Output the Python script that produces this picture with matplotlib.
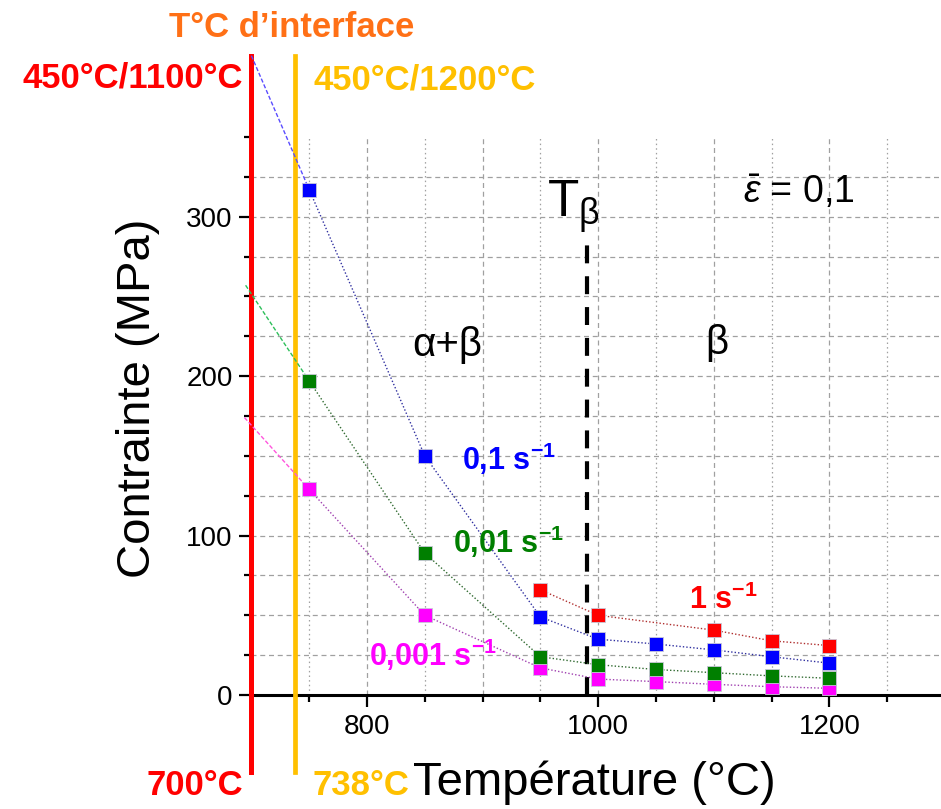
import matplotlib
matplotlib.use("Agg")
import matplotlib.pyplot as plt
from matplotlib.ticker import MultipleLocator
import numpy as np

plt.rcParams['font.family'] = ['Liberation Sans', 'DejaVu Sans']
plt.rcParams['mathtext.fontset'] = 'custom'
plt.rcParams['mathtext.rm'] = 'Liberation Sans'
plt.rcParams['mathtext.it'] = 'Liberation Sans:italic'
plt.rcParams['mathtext.bf'] = 'Liberation Sans:bold'
plt.rcParams['xtick.labelsize'] = 20
plt.rcParams['ytick.labelsize'] = 20

# data (temperature in degC, stress in MPa)
temps = [750, 850, 950, 1000, 1050, 1100, 1150, 1200]
stress_01 = [317, 150, 49, 35, 32, 28.3, 24, 20]        # 0,1 s-1
stress_001 = [197, 89, 24, 19, 16, 14, 12, 10.5]        # 0,01 s-1
stress_0001 = [129, 50, 17, 10, 8.4, 6.7, 5.2, 4.2]     # 0,001 s-1
temps_1 = [950, 1000, 1100, 1150, 1200]
stress_1 = [66, 50, 40.7, 34, 31]                      # 1 s-1

# start of the fitted curves, left of the first point
ext_start_01 = (700, 401)
ext_start_001 = (695, 257)
ext_start_0001 = (694, 174)

T_interface_1 = 700   # 450/1100
T_interface_2 = 738   # 450/1200
T_beta = 990

W, H = 941, 809
fig = plt.figure(figsize=(W / 100, H / 100), dpi=100)
ax = fig.add_axes([251.4 / W, 114 / H, 693.5 / W, 558 / H])
ax.set_xlim(700, 1300)
ax.set_ylim(0, 350)

# grid
for t in np.arange(750, 1300, 50):
    if t % 100 == 0:
        ax.axvline(t, color='#a0a0a0', lw=0.9, ls=(0, (4, 3)), zorder=0)
    else:
        ax.axvline(t, color='#a0a0a0', lw=0.9, ls=(0, (1.2, 2.5)), zorder=0)
for s in np.arange(25, 350, 25):
    ax.axhline(s, color='#a0a0a0', lw=0.9, ls=(0, (4, 3)), zorder=0)

for sp in ['top', 'right']:
    ax.spines[sp].set_visible(False)
ax.spines['left'].set_linewidth(2.0)
ax.spines['bottom'].set_linewidth(2.2)

ax.xaxis.set_major_locator(MultipleLocator(200))
ax.xaxis.set_minor_locator(MultipleLocator(50))
ax.yaxis.set_major_locator(MultipleLocator(100))
ax.yaxis.set_minor_locator(MultipleLocator(25))
ax.tick_params(which='major', length=8.6, width=1.6, direction='out')
ax.tick_params(which='minor', length=5, width=1.6, direction='out')
ax.tick_params(axis='y', which='major', pad=5)
ax.tick_params(axis='x', which='major', pad=5)

# interface temperatures
ax.plot([T_interface_1, T_interface_1], [-48, 401], color='#FF0000', lw=3.6,
        clip_on=False, zorder=6)
ax.plot([T_interface_2, T_interface_2], [-48, 401], color='#FFC000', lw=3.4,
        clip_on=False, zorder=6)

# T beta
ax.plot([T_beta, T_beta], [0, 283], color='black', lw=3, dashes=(4.3, 3.1), zorder=3)

# fitted extensions
ax.plot([ext_start_01[0], temps[0]], [ext_start_01[1], stress_01[0]],
        color='#5a4cff', lw=1, ls=(0, (3, 1.5)), clip_on=False, zorder=7)
ax.plot([ext_start_001[0], temps[0]], [ext_start_001[1], stress_001[0]],
        color='#2dbf5a', lw=1, ls=(0, (3, 1.5)), clip_on=False, zorder=7)
ax.plot([ext_start_0001[0], temps[0]], [ext_start_0001[1], stress_0001[0]],
        color='#ff55dd', lw=1, ls=(0, (3, 1.5)), clip_on=False, zorder=7)

mk = dict(marker='s', ms=9.8, mec='#c8c8d8', mew=0.6, zorder=8)
ax.plot(temps, stress_0001, color='#a040b0', lw=1, ls=(0, (1, 1.5)), zorder=4)
ax.plot(temps, stress_0001, ls='none', mfc='#FF00FF', **mk)
ax.plot(temps, stress_001, color='#306a30', lw=1, ls=(0, (1, 1.5)), zorder=4)
ax.plot(temps, stress_001, ls='none', mfc='#007F00', **mk)
ax.plot(temps, stress_01, color='#3030a0', lw=1, ls=(0, (1, 1.5)), zorder=4)
ax.plot(temps, stress_01, ls='none', mfc='#0000FF', **mk)
ax.plot(temps_1, stress_1, color='#b03030', lw=1, ls=(0, (1, 1.5)), zorder=4)
ax.plot(temps_1, stress_1, ls='none', mfc='#FF0000', **mk)

# labels inside the plot
ax.text(882, 141, r'0,1 s$^{\mathbf{-1}}$', color='#0000FF', fontsize=22,
        fontweight='bold', va='baseline', zorder=9)
ax.text(874, 89.3, r'0,01 s$^{\mathbf{-1}}$', color='#007F00', fontsize=22,
        fontweight='bold', va='baseline', zorder=9)
ax.text(802, 18, r'0,001 s$^{\mathbf{-1}}$', color='#FF00FF', fontsize=22,
        fontweight='bold', va='baseline', zorder=9)
ax.text(1079, 53.8, r'1 s$^{\mathbf{-1}}$', color='#FF0000', fontsize=22,
        fontweight='bold', va='baseline', zorder=9)

ax.text(869.6, 219.5, 'α+β', fontsize=29, ha='center', va='center')
ax.text(1102.6, 221, 'β', fontsize=29, ha='center', va='center')
ax.text(955.5, 300, r'T$_{\mathrm{β}}$', fontsize=37, va='baseline')
ax.text(1125, 308.6, r'$\bar{\varepsilon}$ = 0,1', fontsize=27, va='baseline')

# labels around the axes
def ftext(x, y, s, **kw):
    fig.text(x / W, 1 - y / H, s, **kw)

ftext(291.5, 37, 'T°C d’interface', color='#FF7016', fontsize=25,
      fontweight='bold', ha='center', va='baseline')
ftext(243, 88, '450°C/1100°C', color='#FF0000', fontsize=25,
      fontweight='bold', ha='right', va='baseline')
ftext(313, 90, '450°C/1200°C', color='#FFC000', fontsize=25,
      fontweight='bold', ha='left', va='baseline')
ftext(243, 795, '700°C', color='#FF0000', fontsize=25,
      fontweight='bold', ha='right', va='baseline')
ftext(313, 795, '738°C', color='#FFC000', fontsize=25,
      fontweight='bold', ha='left', va='baseline')
ftext(413, 795, 'Température (°C)', color='black', fontsize=34,
      ha='left', va='baseline')
ftext(138, 398, 'Contrainte (MPa)', color='black', fontsize=34,
      ha='center', va='center', rotation=90)

fig.savefig('out.png', dpi=100)
